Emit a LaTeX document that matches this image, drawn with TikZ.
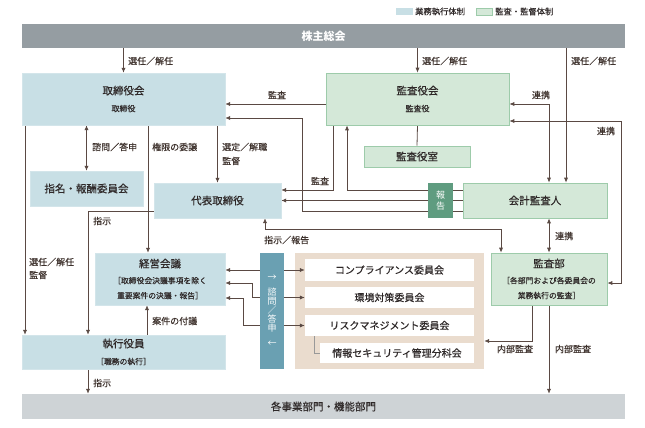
\documentclass[tikz,border=0pt]{standalone}
\usepackage{fontspec}
\setmainfont{Noto Sans CJK JP}
\newfontfamily\tfont[FakeBold=0.5]{Noto Sans CJK JP}
\newfontfamily\lfont[FakeBold=0.25]{Noto Sans CJK JP}
\usetikzlibrary{arrows.meta}
\definecolor{bfill}{HTML}{C8DFE5}
\definecolor{gfill}{HTML}{D4E8D8}
\definecolor{gline}{HTML}{9DCBAA}
\definecolor{topbar}{HTML}{959DA2}
\definecolor{botbar}{HTML}{CED3D6}
\definecolor{repc}{HTML}{5F9C80}
\definecolor{barc}{HTML}{6AA0B2}
\definecolor{beige}{HTML}{EADCCE}
\definecolor{lnc}{HTML}{5A4943}
\definecolor{txc}{HTML}{2E2828}
\definecolor{lbc}{HTML}{3E322D}
\pgfdeclarelayer{back}
\pgfdeclarelayer{mid}
\pgfsetlayers{back,mid,main}
\newcommand{\fsz}[1]{\fontsize{#1}{#1}\selectfont}
\tikzset{
  every node/.style={text=txc, inner sep=0pt},
  bbox/.style={fill=bfill, draw=bfill!80!white, align=center},
  gbox/.style={fill=gfill, draw=gline, line width=0.6pt, align=center},
  wbox/.style={fill=white, align=center, font=\tfont\fsz{10}},
  lbl/.style={font=\lfont\fsz{9}, text=lbc},
  con/.style={draw=lnc, line width=0.8pt},
  arr/.style={con, -{Latex[length=5pt,width=4.2pt]}},
  arrb/.style={con, {Latex[length=5pt,width=4.2pt]}-{Latex[length=5pt,width=4.2pt]}},
}
\begin{document}
\begin{tikzpicture}[x=1pt,y=-1pt]
\useasboundingbox (0,0) rectangle (645,428);
% legend
\node[fill=bfill, minimum width=17pt, minimum height=7pt] (lg1) at (404.5,11.5) {};
\node[anchor=west, font=\lfont\fsz{8.3}] (lg1t) at (415,11.5) {業務執行体制};
\node[fill=gfill, draw=gline, line width=0.5pt, minimum width=16pt, minimum height=7pt] (lg2) at (484.5,11.5) {};
\node[anchor=west, font=\lfont\fsz{8.3}] (lg2t) at (495,11.5) {監査・監督体制};
% bars
\node[fill=topbar, minimum width=603pt, minimum height=24pt, text=white, font=\fsz{11}\bfseries] (kabu) at (323.5,36) {株主総会};
\node[fill=botbar, minimum width=603pt, minimum height=25pt, font=\tfont\fsz{10.5}] (jigyo) at (323.5,406.5) {各事業部門・機能部門};
% boxes
\node[bbox, minimum width=203pt, minimum height=52pt] (tori) at (123.5,99) {{\tfont\fsz{10.5}取締役会}\\[5pt]{\lfont\fsz{8}取締役}};
\node[gbox, minimum width=183pt, minimum height=52pt] (kansa) at (417.5,99) {{\tfont\fsz{10.5}監査役会}\\[5pt]{\lfont\fsz{8}監査役}};
\node[bbox, minimum width=113pt, minimum height=35pt, font=\tfont\fsz{10.5}] (shimei) at (86.5,188.5) {指名・報酬委員会};
\node[bbox, minimum width=127pt, minimum height=35pt, font=\tfont\fsz{10.5}] (daihyo) at (217.5,200.5) {代表取締役};
\node[gbox, minimum width=106pt, minimum height=21pt, font=\tfont\fsz{10.5}] (shitsu) at (417,156.5) {監査役室};
\node[gbox, minimum width=144pt, minimum height=35pt, font=\tfont\fsz{10.5}] (kaikei) at (535,200.5) {会計監査人};
\node[gbox, minimum width=116pt, minimum height=52pt] (kansabu) at (549,279) {{\tfont\fsz{10.5}監査部}\\[4pt]{\lfont\fsz{7.8}［各部門および各委員会の}\\[3pt]{\lfont\fsz{7.8}業務執行の監査］}};
\node[bbox, minimum width=130pt, minimum height=52pt] (keiei) at (160,279) {{\tfont\fsz{10.5}経営会議}\\[4pt]{\lfont\fsz{7.8}［取締役会決議事項を除く}\\[3pt]{\lfont\fsz{7.8}重要案件の決議・報告］}};
\node[bbox, minimum width=203pt, minimum height=34pt] (shikko) at (123.5,352) {{\tfont\fsz{10.5}執行役員}\\[5pt]{\lfont\fsz{7.8}［職務の執行］}};
\node[fill=repc, minimum width=25pt, minimum height=35pt, text=white, font=\fsz{9}, align=center] (hokoku) at (440.5,200.5) {報\\[2pt]告};
\node[fill=barc, minimum width=24pt, minimum height=116pt, text=white, font=\fsz{9}, align=center] (bar) at (272,311) {→\\[6pt]諮\\問\\／\\答\\申\\[6pt]←};
\begin{pgfonlayer}{back}
\node[fill=beige, minimum width=189pt, minimum height=116pt] (panel) at (389.5,311) {};
\end{pgfonlayer}
\node[wbox, minimum width=169pt, minimum height=22pt] (c1) at (389.5,270) {コンプライアンス委員会};
\node[wbox, minimum width=169pt, minimum height=21pt] (c2) at (389.5,297.5) {環境対策委員会};
\node[wbox, minimum width=169pt, minimum height=21pt] (c3) at (389.5,325.5) {リスクマネジメント委員会};
\node[wbox, minimum width=154pt, minimum height=20pt] (c4) at (397,353) {情報セキュリティ管理分科会};
\draw[draw=gray!80, line width=0.6pt] ([xshift=-75.5pt]c3.south) |- (c4.west);
\coordinate (p1) at (302,211);
\coordinate (p2) at (302,118);
\coordinate (q1) at (621,121);
\coordinate (r1) at (265,229);
\coordinate (s1) at (252,283);
\coordinate (s2) at (243,298);
\begin{pgfonlayer}{mid}
% from shareholders
\draw[arr] (kabu.south -| tori.north) -- (tori.north);
\draw[arr] (kabu.south -| kansa.north) -- (kansa.north);
\draw[arr] ([xshift=31pt]kaikei.north |- kabu.south) -- ([xshift=31pt]kaikei.north);
% kansa to tori
\draw[arr] ([yshift=-5pt]kansa.west) -- ([yshift=-5pt]kansa.west -| tori.east);
% reports from kaikei
\draw[arr] ([yshift=-10.5pt]kaikei.west) -- (p1) -- (p2) -- (p2 -| tori.east);
\draw[arr] ([yshift=10.5pt]kaikei.west) -| ([xshift=-70.5pt]kansa.south);
\draw[arr] (kaikei.west) -- (daihyo.east);
% kansa to daihyo
\draw[arr] ([xshift=-84.5pt]kansa.south) |- ([yshift=10.5pt]daihyo.east);
\draw[con] (kansa.south) -- (shitsu.north);
% renkei
\draw[arrb] ([xshift=14pt]kaikei.north) |- ([yshift=-5pt]kansa.east);
\draw[arrb] ([yshift=-22pt]kansa.east) -- (q1) |- ([yshift=-4pt]kansabu.east);
\draw[arrb] (kansabu.north |- kaikei.south) -- (kansabu.north);
% tori down
\draw[arrb] (shimei.north |- tori.south) -- (shimei.north);
\draw[arr] ([xshift=-12pt]keiei.north |- tori.south) -- ([xshift=-12pt]keiei.north);
\draw[arr] (daihyo.north |- tori.south) -- (daihyo.north);
\draw[arr] ([xshift=-98.5pt]tori.south) -- ([xshift=-98.5pt]shikko.north);
\draw[arr] ([yshift=-10.5pt]daihyo.west) -| ([xshift=-35.5pt]shikko.north);
\draw[arrb] ([xshift=-48pt]kansabu.north) |- (r1) -- (r1 |- daihyo.south);
\draw[arr] ([xshift=-13pt]keiei.south |- shikko.north) -- ([xshift=-13pt]keiei.south);
\draw[arr] ([xshift=-35.5pt]shikko.south) -- ([xshift=-35.5pt]shikko.south |- jigyo.north);
% keiei - committees
\draw[arrb] (keiei.east |- c1.west) -- (c1.west);
\draw[arrb] (s1 -| keiei.east) -- (s1) |- (c2.west);
\draw[arrb] (s2 -| keiei.east) -- (s2) |- (c3.west);
% internal audit
\draw[arr] ([xshift=-17pt]kansabu.south) |- ([yshift=-30pt]panel.east);
\draw[arr] (kansabu.south) -- (kansabu.south |- jigyo.north);
\end{pgfonlayer}
% labels
\node[lbl, anchor=west] (l1) at (128,61) {選任／解任};
\node[lbl, anchor=west] (l2) at (422,61) {選任／解任};
\node[lbl, anchor=west] (l3) at (571,61) {選任／解任};
\node[lbl] (l4) at (277,95) {監査};
\node[lbl] (l5) at (541,95) {連携};
\node[lbl] (l6) at (606,131) {連携};
\node[lbl, anchor=west] (l7) at (92,147) {諮問／答申};
\node[lbl, anchor=west] (l8) at (152,147) {権限の委譲};
\node[lbl, anchor=west] (l9) at (222,147) {選定／解職};
\node[lbl, anchor=west] (l10) at (222,161) {監督};
\node[lbl] (l11) at (320,181) {監査};
\node[lbl, anchor=west] (l12) at (93,221) {指示};
\node[lbl, anchor=west] (l13) at (555,236) {連携};
\node[lbl, anchor=west] (l14) at (264,240) {指示／報告};
\node[lbl, anchor=west] (l15) at (29,262) {選任／解任};
\node[lbl, anchor=west] (l16) at (29,275) {監督};
\node[lbl, anchor=west] (l17) at (152,321) {案件の付議};
\node[lbl] (l18) at (515,349) {内部監査};
\node[lbl] (l19) at (573,349) {内部監査};
\node[lbl, anchor=west] (l20) at (93,383) {指示};
\end{tikzpicture}
\end{document}
